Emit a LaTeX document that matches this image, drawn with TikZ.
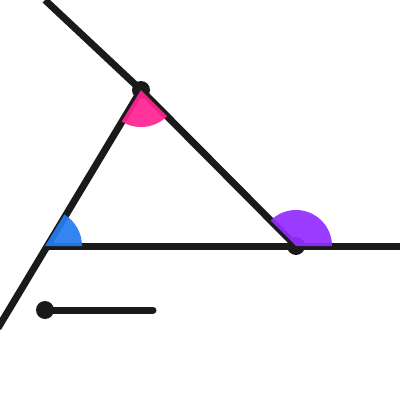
\documentclass[tikz,border=0pt]{standalone}
\begin{document}
\begin{tikzpicture}[x=1pt,y=-1pt,
  ln/.style={line width=7pt,draw={rgb,255:red,26;green,26;blue,26}},
  dot/.style={circle,fill={rgb,255:red,26;green,26;blue,26},inner sep=0pt,minimum size=18pt},
  wedge/.style={fill opacity=0.93}]
\useasboundingbox (0,0) rectangle (400,400);
\definecolor{wblue}{RGB}{36,125,240}
\definecolor{wpink}{RGB}{255,35,145}
\definecolor{wpurple}{RGB}{145,45,255}
\coordinate (T) at (45,0);
\coordinate (B) at (141,90);
\coordinate (A) at (45,246);
\coordinate (C) at (296,246);
\coordinate (R) at (400,246);
\coordinate (L) at (-2,328);
\coordinate (P) at (45,310);
\coordinate (Q) at (153,310);
\draw[ln] (T) -- (B);
\draw[ln] (L) -- (B);
\draw[ln] (A) -- (R);
\draw[ln] (B) -- (C);
\draw[ln,line cap=round] (P) -- (Q);
\node[dot] (b) at (B) {};
\node[dot] (c) at (C) {};
\node[dot] (p) at (P) {};
\fill[wblue,wedge] (A) -- ++(37,0) arc[start angle=0,end angle=-58.4,radius=37] -- cycle;
\fill[wpink,wedge] (B) -- ++(-238.4:37) arc[start angle=-238.4,end angle=-314.8,radius=37] -- cycle;
\fill[wpurple,wedge] (C) -- ++(36,0) arc[start angle=0,end angle=-134.8,radius=36] -- cycle;
\end{tikzpicture}
\end{document}
